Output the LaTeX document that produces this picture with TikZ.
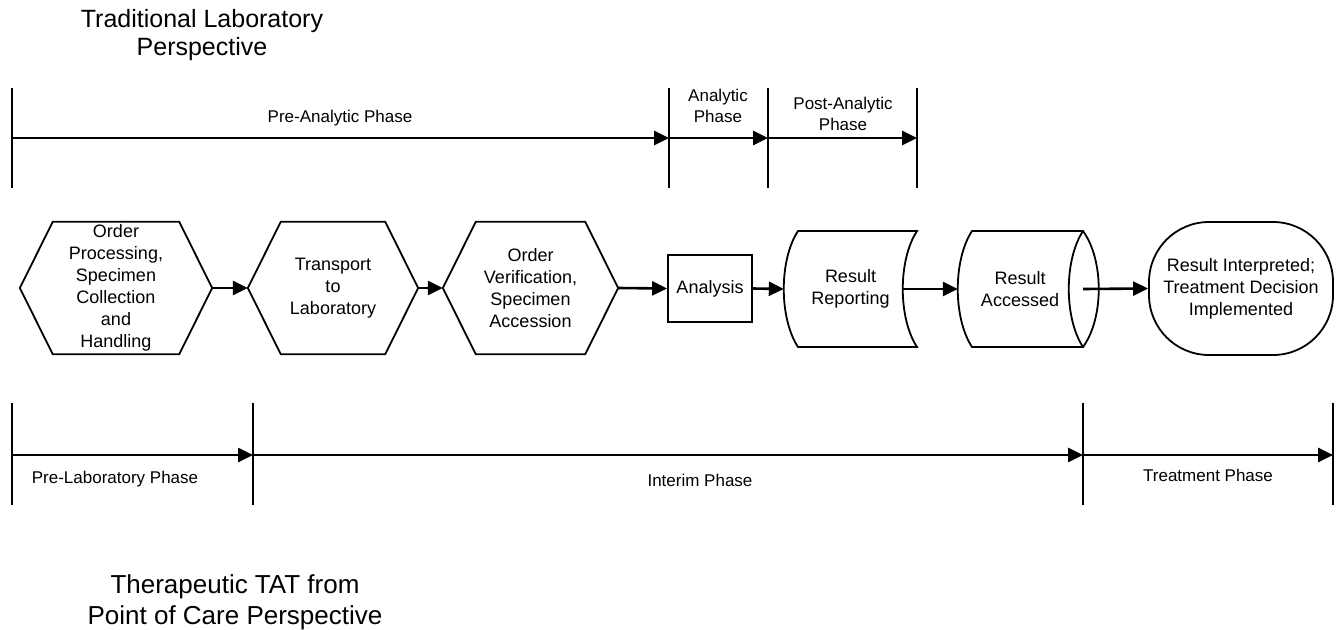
\documentclass[tikz,border=0pt]{standalone}
\usepackage{fontspec}
\setmainfont{Liberation Sans}
\usetikzlibrary{arrows.meta}
\begin{document}
\begin{tikzpicture}[x=1pt,y=-1pt,
  box/.style={inner sep=0pt,align=center,font=\fontsize{18}{22}\selectfont},
  outline/.style={line width=1.8pt,line join=miter},
  arr/.style={line width=2.6pt,-{Triangle[length=15pt,width=14pt]}},
  bar/.style={line width=1.5pt},
  lbl/.style={align=center,inner sep=0pt,font=\fontsize{17}{21}\selectfont},
  ttl/.style={align=center,inner sep=0pt,font=\fontsize{25}{28}\selectfont}]
\useasboundingbox (0,0) rectangle (1337,629);

% titles
\node[ttl] (title1) at (202,35) {Traditional Laboratory\\Perspective};
\node[ttl,font=\fontsize{26}{31}\selectfont] (title2) at (235,602) {Therapeutic TAT from\\Point of Care Perspective};

% top timeline
\foreach \n/\x in {a0/12,a1/669,a2/768,a3/917}{
  \coordinate (\n) at (\x,138);
  \draw[bar] (\x,88) -- (\x,188);
}
\draw[arr] (a0) -- (a1);
\draw[arr] (a1) -- (a2);
\draw[arr] (a2) -- (a3);
\node[lbl] (preana) at (340,118) {Pre-Analytic Phase};
\node[lbl] (ana) at (718,106) {Analytic\\Phase};
\node[lbl] (postana) at (843,114) {Post-Analytic\\Phase};

% bottom timeline
\foreach \n/\x in {b0/12,b1/253,b2/1083,b3/1333}{
  \coordinate (\n) at (\x,455);
  \draw[bar] (\x,403) -- (\x,505);
}
\draw[arr] (b0) -- (b1);
\draw[arr] (b1) -- (b2);
\draw[arr] (b2) -- (b3);
\node[lbl] (prelab) at (115,479) {Pre-Laboratory Phase};
\node[lbl] (interim) at (700,480) {Interim Phase};
\node[lbl] (treat) at (1208,475) {Treatment Phase};

% hexagons
\node[box,minimum width=192pt,minimum height=132pt] (h1) at (116,288)
  {Order\\Processing,\\Specimen\\Collection\\and\\Handling};
\draw[outline] ([xshift=33pt]h1.north west) -- ([xshift=-33pt]h1.north east) -- (h1.east)
  -- ([xshift=-33pt]h1.south east) -- ([xshift=33pt]h1.south west) -- (h1.west) -- cycle;

\node[box,minimum width=170pt,minimum height=132pt] (h2) at (333,288)
  {Transport\\to\\Laboratory};
\draw[outline] ([xshift=33pt]h2.north west) -- ([xshift=-33pt]h2.north east) -- (h2.east)
  -- ([xshift=-33pt]h2.south east) -- ([xshift=33pt]h2.south west) -- (h2.west) -- cycle;

\node[box,minimum width=175pt,minimum height=132pt] (h3) at (530.5,288)
  {Order\\Verification,\\Specimen\\Accession};
\draw[outline] ([xshift=33pt]h3.north west) -- ([xshift=-33pt]h3.north east) -- (h3.east)
  -- ([xshift=-33pt]h3.south east) -- ([xshift=33pt]h3.south west) -- (h3.west) -- cycle;

% analysis
\node[box,draw,outline,minimum width=84pt,minimum height=67pt] (an) at (710,288.5) {Analysis};

% result reporting (stored data)
\node[box,minimum width=133pt,minimum height=116pt] (rr) at (850.5,289) {Result\\Reporting};
\coordinate (rrin) at (903,289);
\draw[outline] (798,231) -- (917,231) .. controls (898,260) and (898,318) .. (917,347)
  -- (798,347) .. controls (779,318) and (779,260) .. (798,231) -- cycle;

% result accessed (direct access storage)
\node[box,minimum width=141pt,minimum height=116pt] (ra) at (1028.5,289) {};
\node[box] (ratext) at (1020,289) {Result\\Accessed};
\coordinate (raout) at (1083,289);
\draw[outline] (972,231) -- (1083,231) .. controls (1104,260) and (1104,318) .. (1083,347)
  -- (972,347) .. controls (953,318) and (953,260) .. (972,231) -- cycle;
\draw[outline] (1083,231) .. controls (1064,260) and (1064,318) .. (1083,347);

% terminal
\node[box,draw,outline,rounded corners=60pt,minimum width=184pt,minimum height=133pt] (tr) at (1241,288.5)
  {Result Interpreted;\\Treatment Decision\\Implemented};

% connectors
\draw[arr] (h1.east) -- (h2.west);
\draw[arr] (h2.east) -- (h3.west);
\draw[arr] (h3.east) -- (an.west);
\draw[arr] (an.east) -- (rr.west);
\draw[arr] (rrin) -- (ra.west);
\draw[arr] (raout) -- (tr.west);
\end{tikzpicture}
\end{document}
